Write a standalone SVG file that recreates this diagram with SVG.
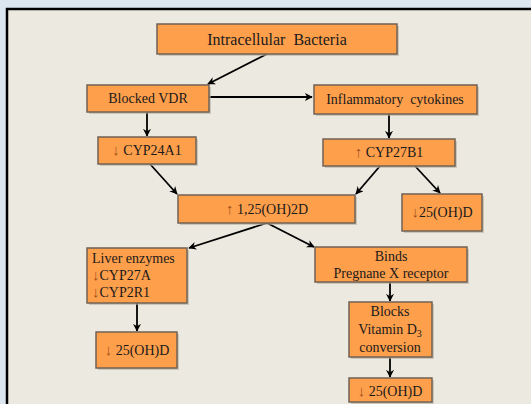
<svg xmlns="http://www.w3.org/2000/svg" width="531" height="404" viewBox="0 0 531 404">
<defs>
<style>
.box{fill:#fe9f4c;stroke:#6f6253;stroke-width:1.5}
.sh{fill:#b8aea0;opacity:0.6}
.t{font-family:"Liberation Serif","Times New Roman",serif;font-size:14px;fill:#1a1a1a;text-anchor:middle}
.ar{fill:#a4501a;font-size:15px}
.c{stroke:#000;stroke-width:1.8;fill:none;marker-end:url(#ah)}
</style>
<marker id="ah" viewBox="0 0 10 10" refX="9" refY="5" markerWidth="8" markerHeight="8" orient="auto" markerUnits="userSpaceOnUse">
<path d="M0,0 L10,5 L0,10 L3,5 Z" fill="#000"/>
</marker>
</defs>
<rect x="0" y="0" width="531" height="404" fill="#dce6f1"/>
<rect x="7" y="9" width="530" height="400" fill="#eceae0" stroke="#000" stroke-width="2.5"/>

<g id="connectors">
<line class="c" x1="267" y1="54" x2="208" y2="84"/>
<line class="c" x1="209" y1="97" x2="312" y2="97"/>
<line class="c" x1="147" y1="112" x2="147" y2="136"/>
<line class="c" x1="389" y1="114" x2="389" y2="138"/>
<line class="c" x1="150" y1="164" x2="177" y2="194"/>
<line class="c" x1="380" y1="166" x2="356" y2="194"/>
<line class="c" x1="415" y1="166" x2="440" y2="193"/>
<line class="c" x1="267" y1="223" x2="189" y2="248"/>
<line class="c" x1="267" y1="223" x2="314" y2="247"/>
<line class="c" x1="137" y1="303" x2="137" y2="331"/>
<line class="c" x1="390" y1="282" x2="390" y2="301"/>
<line class="c" x1="390" y1="357" x2="390" y2="377"/>
</g>

<g id="n-bacteria">
<rect class="sh" x="159" y="26" width="240" height="30"/>
<rect class="box" x="157" y="24" width="240" height="30"/>
<text class="t" x="277" y="45" style="font-size:16px" xml:space="preserve">Intracellular  Bacteria</text>
</g>
<g id="n-vdr">
<rect class="sh" x="89" y="87" width="122" height="27"/>
<rect class="box" x="87" y="85" width="122" height="27"/>
<text class="t" x="148" y="103">Blocked VDR</text>
</g>
<g id="n-cytokines">
<rect class="sh" x="316" y="87" width="163" height="29"/>
<rect class="box" x="314" y="85" width="163" height="29"/>
<text class="t" x="395" y="104" xml:space="preserve">Inflammatory  cytokines</text>
</g>
<g id="n-cyp24">
<rect class="sh" x="100" y="139" width="98" height="27"/>
<rect class="box" x="98" y="137" width="98" height="27"/>
<text class="t" x="147" y="155"><tspan class="ar">↓</tspan> CYP24A1</text>
</g>
<g id="n-cyp27b1">
<rect class="sh" x="325" y="141" width="132" height="27"/>
<rect class="box" x="323" y="139" width="132" height="27"/>
<text class="t" x="389" y="157"><tspan class="ar">↑</tspan> CYP27B1</text>
</g>
<g id="n-125">
<rect class="sh" x="180" y="197" width="177" height="28"/>
<rect class="box" x="178" y="195" width="177" height="28"/>
<text class="t" x="267" y="214"><tspan class="ar">↑</tspan> 1,25(OH)2D</text>
</g>
<g id="n-25r">
<rect class="sh" x="404" y="196" width="80" height="37"/>
<rect class="box" x="402" y="194" width="80" height="37"/>
<text class="t" x="442" y="217"><tspan class="ar">↓</tspan>25(OH)D</text>
</g>
<g id="n-liver">
<rect class="sh" x="89" y="250" width="100" height="55"/>
<rect class="box" x="87" y="248" width="100" height="55"/>
<text class="t" x="92" y="263" style="text-anchor:start">Liver enzymes</text>
<text class="t" x="92" y="280" style="text-anchor:start"><tspan class="ar">↓</tspan>CYP27A</text>
<text class="t" x="92" y="297" style="text-anchor:start"><tspan class="ar">↓</tspan>CYP2R1</text>
</g>
<g id="n-pxr">
<rect class="sh" x="317" y="249" width="152" height="35"/>
<rect class="box" x="315" y="247" width="152" height="35"/>
<text class="t" x="391" y="261">Binds</text>
<text class="t" x="391" y="278">Pregnane X receptor</text>
</g>
<g id="n-25l">
<rect class="sh" x="98" y="334" width="81" height="36"/>
<rect class="box" x="96" y="332" width="81" height="36"/>
<text class="t" x="137" y="355"><tspan class="ar">↓</tspan> 25(OH)D</text>
</g>
<g id="n-blocks">
<rect class="sh" x="351" y="304" width="83" height="55"/>
<rect class="box" x="349" y="302" width="83" height="55"/>
<text class="t" x="390" y="316">Blocks</text>
<text class="t" x="390" y="334">Vitamin  D<tspan font-size="10" dy="3">3</tspan></text>
<text class="t" x="390" y="352">conversion</text>
</g>
<g id="n-25b">
<rect class="sh" x="351" y="380" width="83" height="24"/>
<rect class="box" x="349" y="378" width="83" height="24"/>
<text class="t" x="390" y="396"><tspan class="ar">↓</tspan> 25(OH)D</text>
</g>
</svg>
